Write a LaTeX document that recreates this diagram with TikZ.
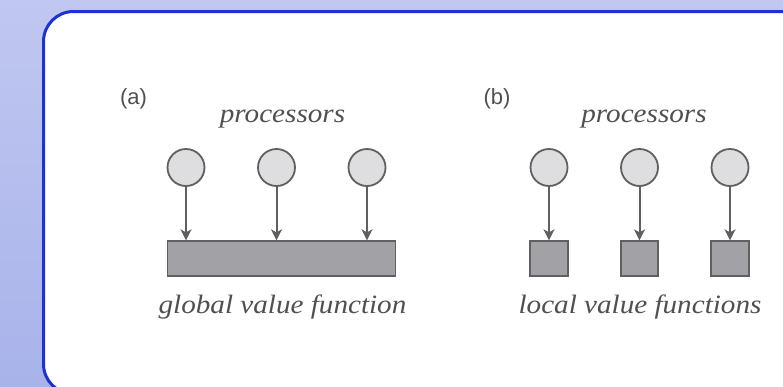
\documentclass[tikz,border=0pt]{standalone}
\usepackage{fontspec}
\setmainfont{Liberation Serif}
\newfontfamily\labelfont{Liberation Sans}
\newfontfamily\capfont[FakeStretch=1.1]{Liberation Serif}
\usetikzlibrary{arrows.meta}
\definecolor{bgtop}{RGB}{192,199,240}
\definecolor{bgbot}{RGB}{168,179,234}
\definecolor{frameblue}{RGB}{30,50,210}
\definecolor{inkgray}{RGB}{96,96,96}
\definecolor{textgray}{RGB}{80,80,80}
\definecolor{procfill}{RGB}{222,222,224}
\definecolor{valfill}{RGB}{162,162,166}
\tikzset{
  proc/.style={circle, draw=inkgray, fill=procfill, line width=1.8pt, minimum size=37pt, inner sep=0pt},
  valbox/.style={rectangle, draw=inkgray, fill=valfill, line width=1.8pt, inner sep=0pt},
  feed/.style={draw=inkgray, line width=2pt, -{Stealth[length=11pt,width=11pt,inset=3pt]}, shorten >=-0.5pt},
  caption/.style={anchor=base, text=textgray, inner sep=0pt, font=\capfont\itshape\fontsize{26.5}{30}\selectfont},
  panel/.style={anchor=base, text=textgray, inner sep=0pt, font=\labelfont\fontsize{22}{26}\selectfont}
}
\begin{document}
\begin{tikzpicture}[x=1pt, y=-1pt]
  % page background
  \shade[top color=bgtop, bottom color=bgbot] (0,0) rectangle (783,386);
  \useasboundingbox (0,0) rectangle (783,386);
  % white rounded panel
  \begin{scope}
    \clip (0,0) rectangle (783,386);
    \draw[frameblue, fill=white, line width=3pt, rounded corners=30pt] (43.5,11.5) rectangle (840,394);
  \end{scope}

  % ---- (a) shared value function ----
  \node[panel] (la) at (133.5,104) {(a)};
  \node[caption] (pa) at (282.5,122) {processors};
  \node[proc] (a1) at (186,167.5) {};
  \node[proc] (a2) at (276.5,167.5) {};
  \node[proc] (a3) at (367,167.5) {};
  \node[valbox, minimum width=228pt, minimum height=35.5pt] (ga) at (281.5,258.5) {};
  \draw[feed] (a1.south) -- (a1.south |- ga.north);
  \draw[feed] (a2.south) -- (a2.south |- ga.north);
  \draw[feed] (a3.south) -- (a3.south |- ga.north);
  \node[caption] (ca) at (282.5,313) {global value function};

  % ---- (b) per-processor value functions ----
  \node[panel] (lb) at (497,104) {(b)};
  \node[caption] (pb) at (644,122) {processors};
  \node[proc] (b1) at (549,167.5) {};
  \node[proc] (b2) at (639.5,167.5) {};
  \node[proc] (b3) at (730,167.5) {};
  \node[valbox, minimum width=37.5pt, minimum height=35.5pt] (v1) at (549,258.5) {};
  \node[valbox, minimum width=37.5pt, minimum height=35.5pt] (v2) at (639.5,258.5) {};
  \node[valbox, minimum width=37.5pt, minimum height=35.5pt] (v3) at (730,258.5) {};
  \draw[feed] (b1) -- (v1);
  \draw[feed] (b2) -- (v2);
  \draw[feed] (b3) -- (v3);
  \node[caption] (cb) at (640,313) {local value functions};
\end{tikzpicture}
\end{document}
